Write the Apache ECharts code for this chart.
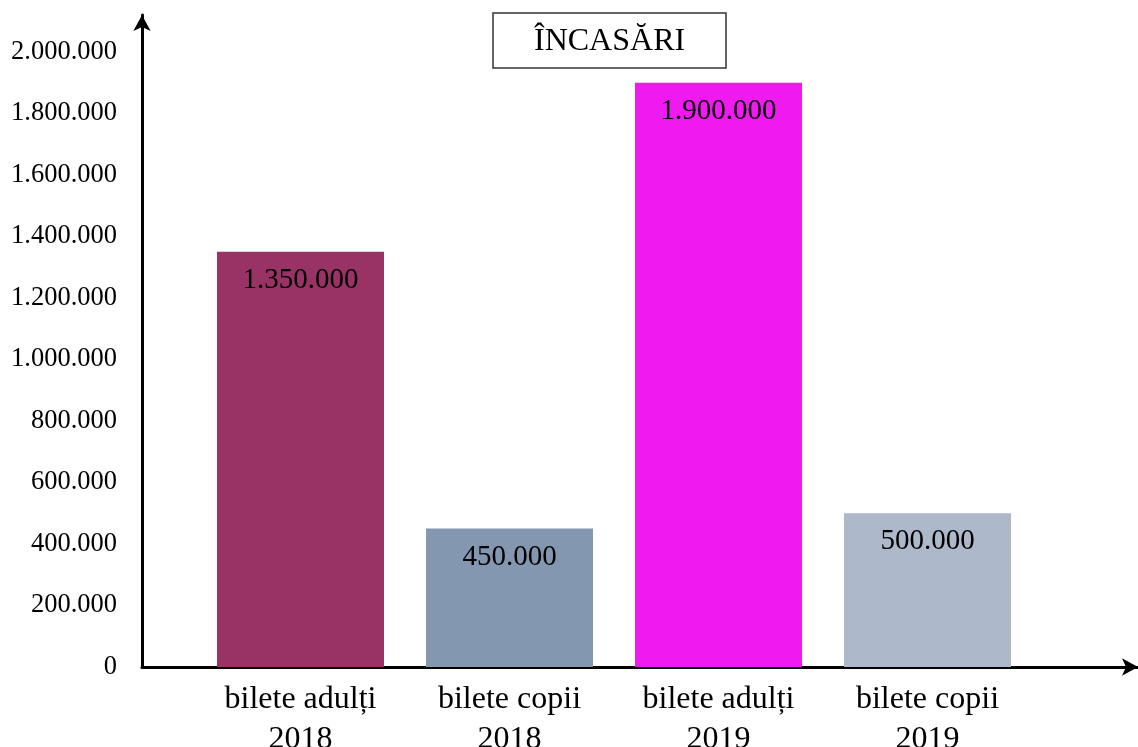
<!DOCTYPE html>
<html>
<head>
<meta charset="utf-8">
<title>Încasări</title>
<script src="https://cdn.jsdelivr.net/npm/echarts@6/dist/echarts.min.js"></script>
<style>
  html, body { margin: 0; padding: 0; background: #fff; }
  #chart { width: 1138px; height: 747px; }
</style>
</head>
<body>
<div id="chart"></div>
<script>
// data
const categories = ['bilete adulți\n2018', 'bilete copii\n2018', 'bilete adulți\n2019', 'bilete copii\n2019']
const values = [1350000, 450000, 1900000, 500000]
const barColors = ['#993366', '#8497b0', '#f01af0', '#adb9ca']
const titleText = 'ÎNCASĂRI'

const serif = "'Liberation Serif', 'Times New Roman', serif"
const yMax = 2120000 // axis line runs a bit past the last label

// 1.350.000 style
const fmt = (v) => String(v).replace(/\B(?=(\d{3})+(?!\d))/g, '.')

const chart = echarts.init(document.getElementById('chart'))

const option = {
  animation: false,
  backgroundColor: '#fff',
  title: {
    text: titleText,
    left: 493,
    top: 13,
    padding: [13, 41, 10, 41],
    borderColor: '#333',
    borderWidth: 1.5,
    textStyle: {
      fontFamily: serif,
      fontSize: 32,
      fontWeight: 'normal',
      color: '#000'
    }
  },
  grid: [
    // axes only
    { left: 142, right: 0, top: 15, bottom: 80, outerBoundsMode: 'none' },
    // bars
    { left: 196, right: 106, top: 15, bottom: 80, outerBoundsMode: 'none' }
  ],
  xAxis: [
    {
      gridIndex: 0,
      type: 'value',
      min: 0,
      max: 1,
      axisLine: {
        show: true,
        symbol: ['none', 'arrow'],
        symbolSize: [13, 16],
        lineStyle: { color: '#000', width: 3 }
      },
      axisTick: { show: false },
      axisLabel: { show: false },
      splitLine: { show: false }
    },
    {
      gridIndex: 1,
      type: 'category',
      data: categories,
      axisLine: { show: false },
      axisTick: { show: false },
      axisLabel: {
        margin: 13,
        fontFamily: serif,
        fontSize: 32,
        lineHeight: 40,
        color: '#000',
        interval: 0
      }
    }
  ],
  yAxis: [
    {
      gridIndex: 0,
      type: 'value',
      min: 0,
      max: yMax,
      interval: 200000,
      axisLine: {
        show: true,
        symbol: ['none', 'arrow'],
        symbolSize: [13, 16],
        lineStyle: { color: '#000', width: 3 }
      },
      axisTick: { show: false },
      splitLine: { show: false },
      axisLabel: {
        margin: 25,
        padding: [4, 0, 0, 0],
        showMaxLabel: false,
        fontFamily: serif,
        fontSize: 26.5,
        color: '#000',
        formatter: fmt
      }
    },
    {
      gridIndex: 1,
      type: 'value',
      min: 0,
      max: yMax,
      show: false
    }
  ],
  series: [
    {
      type: 'bar',
      xAxisIndex: 1,
      yAxisIndex: 1,
      data: values.map((v, i) => ({ value: v, itemStyle: { color: barColors[i] } })),
      barWidth: 167,
      label: {
        show: true,
        position: 'insideTop',
        distance: 14,
        fontFamily: serif,
        fontSize: 29,
        color: '#000',
        formatter: (p) => fmt(p.value)
      }
    }
  ]
}

chart.setOption(option)
window.addEventListener('resize', () => chart.resize())
</script>
</body>
</html>
